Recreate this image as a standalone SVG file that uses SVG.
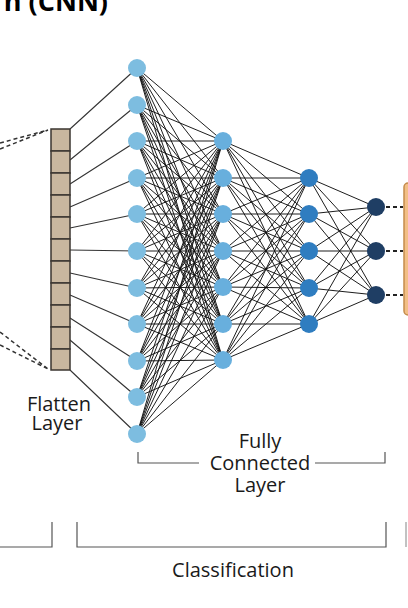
<svg xmlns="http://www.w3.org/2000/svg" width="408" height="608" viewBox="0 0 408 608">
<style>
text{font-family:"Open Sans","Liberation Sans",sans-serif;fill:#1a1a1a}
.lbl{font-size:20px;text-anchor:middle}
.title{font-size:27px;font-weight:bold;fill:#000}
.e{stroke:#111;stroke-width:0.95;fill:none}
.f{stroke:#333;stroke-width:1.1;fill:none}
.dash{stroke:#333;stroke-width:1.5;stroke-dasharray:4 3;fill:none}
.odash{stroke:#222;stroke-width:2;stroke-dasharray:4 3;fill:none}
.br{stroke:#555;stroke-width:1.2;fill:none}
.cell{fill:#c9b79f;stroke:#3b3631;stroke-width:1.5}
.n1{fill:#7dbde0}
.n2{fill:#68afdd}
.n3{fill:#2f7dc0}
.n4{fill:#1f3e64}
</style>
<text class="title" x="108" y="11" text-anchor="end">n (CNN)</text>

<g id="connectors">
<path class="dash" d="M0 143 48 130M0 149 48 130M0 332 48 369M0 345 48 369"/>
<path class="f" d="M70 129 137 68M70 160 137 105M70 184 137 141M70 207 137 178M70 228 137 214M70 250 137 251M70 273 137 288M70 295 137 324M70 318 137 361M70 340 137 397M70 370 137 434"/>
<path class="e" d="M137 68 223 141M137 68 223 178M137 68 223 214M137 68 223 251M137 68 223 287M137 68 223 324M137 68 223 360
M137 105 223 141M137 105 223 178M137 105 223 214M137 105 223 251M137 105 223 287M137 105 223 324M137 105 223 360
M137 141 223 141M137 141 223 178M137 141 223 214M137 141 223 251M137 141 223 287M137 141 223 324M137 141 223 360
M137 178 223 141M137 178 223 178M137 178 223 214M137 178 223 251M137 178 223 287M137 178 223 324M137 178 223 360
M137 214 223 141M137 214 223 178M137 214 223 214M137 214 223 251M137 214 223 287M137 214 223 324M137 214 223 360
M137 251 223 141M137 251 223 178M137 251 223 214M137 251 223 251M137 251 223 287M137 251 223 324M137 251 223 360
M137 288 223 141M137 288 223 178M137 288 223 214M137 288 223 251M137 288 223 287M137 288 223 324M137 288 223 360
M137 324 223 141M137 324 223 178M137 324 223 214M137 324 223 251M137 324 223 287M137 324 223 324M137 324 223 360
M137 361 223 141M137 361 223 178M137 361 223 214M137 361 223 251M137 361 223 287M137 361 223 324M137 361 223 360
M137 397 223 141M137 397 223 178M137 397 223 214M137 397 223 251M137 397 223 287M137 397 223 324M137 397 223 360
M137 434 223 141M137 434 223 178M137 434 223 214M137 434 223 251M137 434 223 287M137 434 223 324M137 434 223 360"/>
<path class="e" d="M223 141 309 178M223 141 309 214M223 141 309 251M223 141 309 288M223 141 309 324
M223 178 309 178M223 178 309 214M223 178 309 251M223 178 309 288M223 178 309 324
M223 214 309 178M223 214 309 214M223 214 309 251M223 214 309 288M223 214 309 324
M223 251 309 178M223 251 309 214M223 251 309 251M223 251 309 288M223 251 309 324
M223 287 309 178M223 287 309 214M223 287 309 251M223 287 309 288M223 287 309 324
M223 324 309 178M223 324 309 214M223 324 309 251M223 324 309 288M223 324 309 324
M223 360 309 178M223 360 309 214M223 360 309 251M223 360 309 288M223 360 309 324"/>
<path class="e" d="M309 178 376 207M309 178 376 251M309 178 376 295
M309 214 376 207M309 214 376 251M309 214 376 295
M309 251 376 207M309 251 376 251M309 251 376 295
M309 288 376 207M309 288 376 251M309 288 376 295
M309 324 376 207M309 324 376 251M309 324 376 295"/>
<path class="odash" d="M386 207H403M386 251H403M386 295H403"/>
</g>

<g id="flatten-layer">
<rect class="cell" x="51" y="129" width="19" height="22"/>
<rect class="cell" x="51" y="151" width="19" height="22"/>
<rect class="cell" x="51" y="173" width="19" height="22"/>
<rect class="cell" x="51" y="195" width="19" height="22"/>
<rect class="cell" x="51" y="217" width="19" height="22"/>
<rect class="cell" x="51" y="239" width="19" height="22"/>
<rect class="cell" x="51" y="261" width="19" height="22"/>
<rect class="cell" x="51" y="283" width="19" height="22"/>
<rect class="cell" x="51" y="305" width="19" height="22"/>
<rect class="cell" x="51" y="327" width="19" height="22"/>
<rect class="cell" x="51" y="349" width="19" height="21"/>
<text class="lbl" x="59" y="411">Flatten</text>
<text class="lbl" x="57" y="430">Layer</text>
</g>

<g id="fc-layer-1">
<circle class="n1" cx="137" cy="68" r="9"/>
<circle class="n1" cx="137" cy="105" r="9"/>
<circle class="n1" cx="137" cy="141" r="9"/>
<circle class="n1" cx="137" cy="178" r="9"/>
<circle class="n1" cx="137" cy="214" r="9"/>
<circle class="n1" cx="137" cy="251" r="9"/>
<circle class="n1" cx="137" cy="288" r="9"/>
<circle class="n1" cx="137" cy="324" r="9"/>
<circle class="n1" cx="137" cy="361" r="9"/>
<circle class="n1" cx="137" cy="397" r="9"/>
<circle class="n1" cx="137" cy="434" r="9"/>
</g>
<g id="fc-layer-2">
<circle class="n2" cx="223" cy="141" r="9"/>
<circle class="n2" cx="223" cy="178" r="9"/>
<circle class="n2" cx="223" cy="214" r="9"/>
<circle class="n2" cx="223" cy="251" r="9"/>
<circle class="n2" cx="223" cy="287" r="9"/>
<circle class="n2" cx="223" cy="324" r="9"/>
<circle class="n2" cx="223" cy="360" r="9"/>
</g>
<g id="fc-layer-3">
<circle class="n3" cx="309" cy="178" r="9"/>
<circle class="n3" cx="309" cy="214" r="9"/>
<circle class="n3" cx="309" cy="251" r="9"/>
<circle class="n3" cx="309" cy="288" r="9"/>
<circle class="n3" cx="309" cy="324" r="9"/>
</g>
<g id="output-layer">
<circle class="n4" cx="376" cy="207" r="9"/>
<circle class="n4" cx="376" cy="251" r="9"/>
<circle class="n4" cx="376" cy="295" r="9"/>
</g>
<g id="output-box">
<rect x="404" y="183" width="12" height="132" rx="4" fill="#f2bf86" stroke="#c58c4c" stroke-width="1.5"/>
</g>

<g id="fc-label">
<path class="br" d="M138 452V463H199M315 463H385V452"/>
<text class="lbl" x="260" y="448">Fully</text>
<text class="lbl" x="260" y="470">Connected</text>
<text class="lbl" x="260" y="492">Layer</text>
</g>

<g id="stage-brackets">
<path class="br" d="M0 547H52V522"/>
<path class="br" d="M77 522V547H386V522"/>
<path d="M406 522V547" stroke="#999" stroke-width="1.2"/>
<text class="lbl" x="233" y="577">Classification</text>
</g>
</svg>
